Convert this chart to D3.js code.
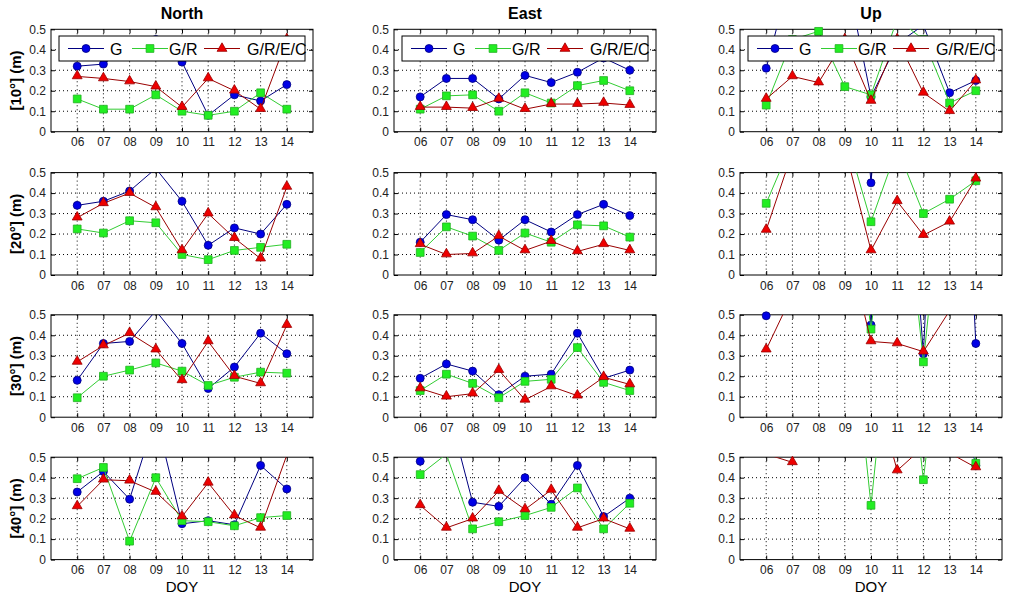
<!DOCTYPE html>
<html><head><meta charset="utf-8">
<script src="https://cdn.jsdelivr.net/npm/d3@7"></script>
<style>body{margin:0;background:#fff} svg{display:block}</style>
</head><body><svg id="c" width="1023" height="600"></svg>
<script>
// ---------- data ----------
const doy = [6, 7, 8, 9, 10, 11, 12, 13, 14];
const xTickLabels = ["06", "07", "08", "09", "10", "11", "12", "13", "14"];
const yTicks = [0, 0.1, 0.2, 0.3, 0.4, 0.5];
const columnTitles = ["North", "East", "Up"];
const rowLabels = ["[10°] (m)", "[20°] (m)", "[30°] (m)", "[40°] (m)"];
const seriesNames = ["G", "G/R", "G/R/E/C"];

// North
const north10_G    = [0.32, 0.33, 0.42, 0.45, 0.34, 0.08, 0.18, 0.15, 0.23];
const north10_GR   = [0.16, 0.11, 0.11, 0.18, 0.10, 0.08, 0.10, 0.19, 0.11];
const north10_GREC = [0.27, 0.26, 0.245, 0.22, 0.12, 0.26, 0.20, 0.11, 0.45];
const north20_G    = [0.34, 0.36, 0.41, 0.52, 0.36, 0.145, 0.23, 0.20, 0.345];
const north20_GR   = [0.225, 0.205, 0.265, 0.255, 0.10, 0.075, 0.12, 0.135, 0.15];
const north20_GREC = [0.28, 0.35, 0.40, 0.33, 0.12, 0.30, 0.18, 0.08, 0.43];
const north30_G    = [0.18, 0.36, 0.37, 0.52, 0.36, 0.14, 0.245, 0.41, 0.31];
const north30_GR   = [0.095, 0.20, 0.23, 0.265, 0.225, 0.155, 0.195, 0.22, 0.215];
const north30_GREC = [0.27, 0.35, 0.41, 0.33, 0.18, 0.37, 0.20, 0.165, 0.45];
const north40_G    = [0.33, 0.43, 0.295, 0.70, 0.175, 0.19, 0.17, 0.46, 0.345];
const north40_GR   = [0.395, 0.45, 0.09, 0.40, 0.19, 0.185, 0.165, 0.205, 0.215];
const north40_GREC = [0.26, 0.39, 0.385, 0.33, 0.21, 0.375, 0.215, 0.155, 0.51];
// East
const east10_G     = [0.17, 0.26, 0.26, 0.16, 0.275, 0.24, 0.29, 0.36, 0.30];
const east10_GR    = [0.11, 0.175, 0.18, 0.10, 0.19, 0.14, 0.225, 0.25, 0.20];
const east10_GREC  = [0.12, 0.12, 0.115, 0.16, 0.11, 0.135, 0.135, 0.14, 0.13];
const east20_G     = [0.16, 0.295, 0.27, 0.17, 0.27, 0.21, 0.295, 0.345, 0.29];
const east20_GR    = [0.11, 0.235, 0.19, 0.12, 0.205, 0.16, 0.245, 0.24, 0.185];
const east20_GREC  = [0.15, 0.10, 0.105, 0.19, 0.12, 0.165, 0.115, 0.15, 0.12];
const east30_G     = [0.19, 0.26, 0.225, 0.11, 0.20, 0.21, 0.41, 0.19, 0.23];
const east30_GR    = [0.13, 0.21, 0.165, 0.095, 0.175, 0.185, 0.34, 0.17, 0.13];
const east30_GREC  = [0.14, 0.10, 0.115, 0.23, 0.085, 0.15, 0.105, 0.195, 0.16];
const east40_G     = [0.48, 0.77, 0.28, 0.26, 0.40, 0.27, 0.46, 0.21, 0.30];
const east40_GR    = [0.415, 0.515, 0.15, 0.185, 0.215, 0.255, 0.35, 0.15, 0.275];
const east40_GREC  = [0.265, 0.155, 0.20, 0.335, 0.245, 0.34, 0.155, 0.20, 0.15];
// Up
const up10_G       = [0.31, 0.80, 0.90, 0.80, 0.17, 0.43, 0.52, 0.19, 0.25];
const up10_GR      = [0.13, 0.45, 0.49, 0.22, 0.18, 0.55, 0.45, 0.14, 0.20];
const up10_GREC    = [0.16, 0.27, 0.24, 0.45, 0.15, 0.45, 0.19, 0.10, 0.25];
const up20_G       = [0.90, 1.20, 1.20, 2.00, 0.45, 2.00, 0.80, 0.80, 0.60];
const up20_GR      = [0.35, 0.65, 0.80, 0.70, 0.26, 0.62, 0.30, 0.37, 0.46];
const up20_GREC    = [0.22, 0.60, 0.80, 0.62, 0.12, 0.36, 0.195, 0.26, 0.47];
const up30_G       = [0.495, 1.50, 1.50, 2.00, 0.45, 2.00, 0.31, 3.00, 0.36];
const up30_GR      = [0.70, 1.50, 1.50, 1.50, 0.43, 1.50, 0.27, 1.50, 0.80];
const up30_GREC    = [0.33, 0.60, 0.90, 0.90, 0.37, 0.36, 0.32, 0.52, 0.70];
const up40_G       = [1.00, 1.20, 1.50, 1.50, 1.20, 1.00, 1.20, 1.00, 0.46];
const up40_GR      = [0.80, 0.90, 1.20, 1.50, 0.265, 1.50, 0.39, 1.50, 0.47];
const up40_GREC    = [0.515, 0.475, 1.00, 1.00, 0.90, 0.435, 0.55, 0.52, 0.45];

const panels = [
  [[north10_G, north10_GR, north10_GREC], [east10_G, east10_GR, east10_GREC], [up10_G, up10_GR, up10_GREC]],
  [[north20_G, north20_GR, north20_GREC], [east20_G, east20_GR, east20_GREC], [up20_G, up20_GR, up20_GREC]],
  [[north30_G, north30_GR, north30_GREC], [east30_G, east30_GR, east30_GREC], [up30_G, up30_GR, up30_GREC]],
  [[north40_G, north40_GR, north40_GREC], [east40_G, east40_GR, east40_GREC], [up40_G, up40_GR, up40_GREC]]
];

// ---------- layout / style ----------
const colLeft = [51, 394, 740];
const plotW = 262;
const rowTop = [29.3, 172.6, 314.8, 457.2];
const plotH = 102.4;
const FONT = "'Liberation Sans', Arial, Helvetica, sans-serif";
const styles = [
  {line: "#000080", fill: "#0000e6", stroke: "#000080", shape: "circle"},
  {line: "#33cc33", fill: "#22ee22", stroke: "#22b022", shape: "square"},
  {line: "#990000", fill: "#ee0000", stroke: "#990000", shape: "triangle"}
];
const symGen = {
  circle: d3.symbol().type(d3.symbolCircle).size(Math.PI * 4 * 4),
  square: d3.symbol().type(d3.symbolSquare).size(60),
  triangle: d3.symbol().type(d3.symbolTriangle).size(42)
};

const svg = d3.select("#c");
svg.append("rect").attr("width", 1023).attr("height", 600).attr("fill", "#fff");

panels.forEach((row, r) => {
  row.forEach((seriesArr, c) => {
    const L = colLeft[c], T = rowTop[r];
    const x = d3.scaleLinear().domain([5, 15]).range([L, L + plotW]);
    const y = d3.scaleLinear().domain([0, 0.5]).range([T + plotH, T]);
    const g = svg.append("g");
    const clipId = `clip-${r}-${c}`;
    g.append("clipPath").attr("id", clipId).append("rect")
      .attr("x", L).attr("y", T).attr("width", plotW).attr("height", plotH);

    // grid
    g.append("g").selectAll("line").data(doy).join("line")
      .attr("x1", d => x(d)).attr("x2", d => x(d)).attr("y1", T).attr("y2", T + plotH)
      .attr("stroke", "#000").attr("stroke-width", 1).attr("stroke-dasharray", "1,3");
    g.append("g").selectAll("line").data(yTicks.slice(1, -1)).join("line")
      .attr("x1", L).attr("x2", L + plotW).attr("y1", d => y(d)).attr("y2", d => y(d))
      .attr("stroke", "#000").attr("stroke-width", 1).attr("stroke-dasharray", "1,3");

    // axes
    const xa = g.append("g").attr("transform", `translate(0,${T + plotH})`)
      .call(d3.axisBottom(x).tickValues(doy).tickFormat((d, i) => xTickLabels[i]).tickSizeInner(-4).tickSizeOuter(0).tickPadding(6));
    const ya = g.append("g").attr("transform", `translate(${L},0)`)
      .call(d3.axisLeft(y).tickValues(yTicks).tickFormat(d => d === 0 ? "0" : d3.format(".1f")(d)).tickSizeInner(-4).tickSizeOuter(0).tickPadding(5));
    const xt = g.append("g").attr("transform", `translate(0,${T})`)
      .call(d3.axisTop(x).tickValues(doy).tickFormat("").tickSizeInner(-4).tickSizeOuter(0));
    const yr = g.append("g").attr("transform", `translate(${L + plotW},0)`)
      .call(d3.axisRight(y).tickValues(yTicks).tickFormat("").tickSizeInner(-4).tickSizeOuter(0));
    [xa, ya, xt, yr].forEach(a => {
      a.select(".domain").remove();
      a.selectAll("text").attr("font-family", FONT).attr("font-size", 12).attr("fill", "#222");
    });
    g.append("rect").attr("x", L).attr("y", T).attr("width", plotW).attr("height", plotH)
      .attr("fill", "none").attr("stroke", "#000").attr("stroke-width", 1);

    // series
    const line = d3.line().x((d, i) => x(doy[i])).y(d => y(d));
    seriesArr.forEach((vals, s) => {
      const st = styles[s];
      g.append("path").datum(vals).attr("d", line).attr("clip-path", `url(#${clipId})`)
        .attr("fill", "none").attr("stroke", st.line).attr("stroke-width", 1);
      g.append("g").selectAll("path").data(vals.map((v, i) => ({v, i})).filter(d => d.v <= 0.5))
        .join("path").attr("d", symGen[st.shape])
        .attr("transform", d => `translate(${x(doy[d.i])},${y(d.v) + (st.shape === "triangle" ? -0.5 : 0)})`)
        .attr("fill", st.fill).attr("stroke", st.stroke).attr("stroke-width", 0.8);
    });

    // legend (first row)
    if (r === 0) {
      const lg = g.append("g");
      const bx = L + 8, by = T + 6.7, bw = plotW - 16, bh = 25;
      lg.append("rect").attr("x", bx).attr("y", by).attr("width", bw).attr("height", bh)
        .attr("fill", "#fff").attr("stroke", "#000").attr("stroke-width", 1);
      const markerOffsets = [27, 91, 163];
      const textOffsets = [51, 110, 188];
      seriesNames.forEach((name, s) => {
        const st = styles[s];
        const mx = bx + markerOffsets[s], ly = by + bh / 2;
        lg.append("line").attr("x1", mx - 18).attr("x2", mx + 18).attr("y1", ly).attr("y2", ly)
          .attr("stroke", st.line).attr("stroke-width", 1);
        lg.append("path").attr("d", symGen[st.shape]).attr("transform", `translate(${mx},${ly})`)
          .attr("fill", st.fill).attr("stroke", st.stroke).attr("stroke-width", 0.8);
        lg.append("text").attr("x", bx + textOffsets[s]).attr("y", ly + 6).text(name)
          .attr("font-family", FONT).attr("font-size", 16).attr("fill", "#000");
      });
    }

    if (r === 0) {
      svg.append("text").attr("x", L + plotW / 2).attr("y", 19).attr("text-anchor", "middle")
        .attr("font-family", FONT).attr("font-weight", "bold").attr("font-size", 16).text(columnTitles[c]);
    }
    if (c === 0) {
      svg.append("text").attr("transform", `translate(21,${T + plotH / 2}) rotate(-90)`)
        .attr("text-anchor", "middle").attr("font-family", FONT).attr("font-weight", "bold")
        .attr("font-size", 15).text(rowLabels[r]);
    }
    if (r === 3) {
      svg.append("text").attr("x", L + plotW / 2).attr("y", 592).attr("text-anchor", "middle")
        .attr("font-family", FONT).attr("font-size", 15).text("DOY");
    }
  });
});
</script>
</body></html>
